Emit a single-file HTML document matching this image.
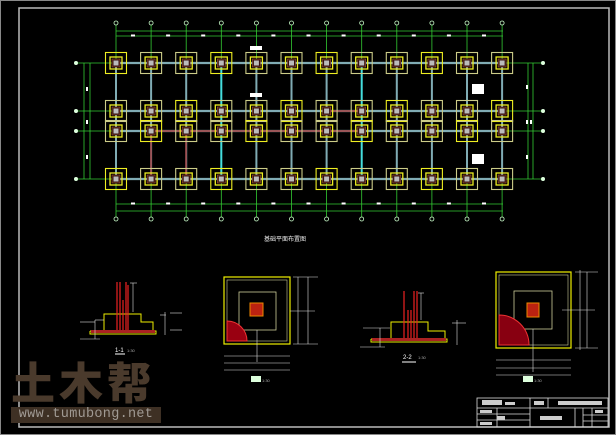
<!DOCTYPE html>
<html><head><meta charset="utf-8"><style>
html,body{margin:0;padding:0;background:#000;width:616px;height:435px;overflow:hidden}
svg{position:absolute;left:0;top:0}
.wm{position:absolute;left:11px;top:356px;width:150px;font-family:"Noto Sans CJK SC","WenQuanYi Zen Hei",sans-serif;font-weight:900;font-size:44px;line-height:48px;color:#4a3a2c;letter-spacing:4px;white-space:nowrap}
.wb{position:absolute;left:11px;top:407px;width:150px;height:16px;background:#3e3024;color:#a09a94;font-family:"Liberation Mono",monospace;font-size:13.5px;line-height:16px;text-align:center;white-space:nowrap;letter-spacing:0.3px}
</style></head><body>
<svg id="s" width="616" height="435" viewBox="0 0 616 435" xmlns="http://www.w3.org/2000/svg">
<rect x="0.5" y="0.5" width="615" height="434" fill="none" stroke="#888" stroke-width="1"/>
<rect x="19" y="8" width="590" height="419" fill="none" stroke="#bbb" stroke-width="1.5"/>
<g id="plan"></g>
<text x="285" y="241" fill="#eee" font-size="6" font-family="Noto Sans CJK SC,sans-serif" text-anchor="middle">基础平面布置图</text>
<g fill="none" stroke-width="1">
<polyline points="90,331 104,331 104,314 141,314 141,322 153,322 153,331 156,331 156,334 90,334 90,331" stroke="#ee0"/>
<rect x="91" y="330" width="64" height="3" fill="#a22" stroke="none"/>
<g stroke="#e22" stroke-width="1.2"><line x1="117" y1="282" x2="117" y2="330"/><line x1="120" y1="282" x2="120" y2="330"/><line x1="126" y1="282" x2="126" y2="330"/><line x1="123" y1="300" x2="123" y2="330"/><line x1="128" y1="285" x2="128" y2="330"/></g>
<g stroke="#ddd" stroke-width="0.6"><line x1="130" y1="283" x2="137" y2="283"/><line x1="133" y1="283" x2="133" y2="312"/><line x1="95" y1="320" x2="104" y2="320"/><line x1="95" y1="320" x2="95" y2="339"/><line x1="80" y1="339" x2="100" y2="339"/><line x1="80" y1="322" x2="95" y2="322"/><line x1="160" y1="315" x2="166" y2="315"/><line x1="165" y1="312" x2="165" y2="335"/><line x1="170" y1="313" x2="182" y2="313"/><line x1="170" y1="330" x2="182" y2="330"/></g>
<line x1="115" y1="354" x2="125" y2="354" stroke="#fff"/>
<text x="115" y="352" fill="#fff" font-size="6" font-family="Liberation Sans">1-1</text><text x="127" y="352" fill="#aaa" font-size="4" font-family="Liberation Sans">1:30</text>
<rect x="224" y="277" width="66" height="67" stroke="#ee0" stroke-width="1.2"/>
<rect x="227" y="280" width="60" height="61" stroke="#cc9" stroke-width="0.6"/>
<rect x="239" y="292" width="37" height="38" stroke="#cc9" stroke-width="0.8"/>
<rect x="250" y="303" width="13" height="13" fill="#b21" stroke="#e80"/>
<path d="M227,341 L227,321 A20,20 0 0 1 247,341 Z" fill="#901" stroke="#e33"/>
<g stroke="#ddd" stroke-width="0.6"><line x1="293" y1="277" x2="318" y2="277"/><line x1="298" y1="277" x2="298" y2="344"/><line x1="308" y1="277" x2="308" y2="344"/><line x1="293" y1="344" x2="318" y2="344"/><line x1="224" y1="356" x2="290" y2="356"/><line x1="224" y1="363" x2="290" y2="363"/><line x1="224" y1="370" x2="290" y2="370"/><line x1="257" y1="330" x2="257" y2="362"/><line x1="290" y1="311" x2="315" y2="311"/></g>
<rect x="251" y="376" width="10" height="6" fill="#dfd"/><text x="262" y="382" fill="#aaa" font-size="4" font-family="Liberation Sans">1:30</text>
<polyline points="371,339 391,339 391,322 428,322 428,331 445,331 445,339 447,339 447,342 371,342 371,339" stroke="#ee0"/>
<rect x="372" y="338" width="74" height="3" fill="#a22" stroke="none"/>
<g stroke="#e22" stroke-width="1.2"><line x1="404" y1="291" x2="404" y2="338"/><line x1="414" y1="291" x2="414" y2="338"/><line x1="417" y1="291" x2="417" y2="338"/><line x1="408" y1="310" x2="408" y2="338"/><line x1="411" y1="310" x2="411" y2="338"/></g>
<g stroke="#ddd" stroke-width="0.6"><line x1="418" y1="293" x2="424" y2="293"/><line x1="421" y1="293" x2="421" y2="320"/><line x1="363" y1="328" x2="390" y2="328"/><line x1="380" y1="328" x2="380" y2="347"/><line x1="360" y1="347" x2="385" y2="347"/><line x1="452" y1="323" x2="466" y2="323"/><line x1="457" y1="320" x2="457" y2="345"/></g>
<line x1="402" y1="362" x2="416" y2="362" stroke="#fff"/>
<text x="403" y="359" fill="#fff" font-size="6" font-family="Liberation Sans">2-2</text><text x="418" y="359" fill="#aaa" font-size="4" font-family="Liberation Sans">1:30</text>
<rect x="496" y="272" width="75" height="76" stroke="#ee0" stroke-width="1.2"/>
<rect x="499" y="275" width="69" height="70" stroke="#cc9" stroke-width="0.6"/>
<rect x="514" y="291" width="38" height="38" stroke="#cc9" stroke-width="0.8"/>
<rect x="527" y="303" width="12" height="14" fill="#b21" stroke="#e80"/>
<path d="M499,345 L499,315 A30,30 0 0 1 529,345 Z" fill="#801" stroke="#e33"/>
<g stroke="#ddd" stroke-width="0.6"><line x1="575" y1="272" x2="598" y2="272"/><line x1="580" y1="270" x2="580" y2="350"/><line x1="587" y1="272" x2="587" y2="348"/><line x1="575" y1="348" x2="598" y2="348"/><line x1="496" y1="360" x2="571" y2="360"/><line x1="496" y1="368" x2="571" y2="368"/><line x1="496" y1="375" x2="571" y2="375"/><line x1="533" y1="329" x2="533" y2="372"/><line x1="562" y1="310" x2="595" y2="310"/></g>
<rect x="523" y="376" width="10" height="6" fill="#dfd"/><text x="534" y="382" fill="#aaa" font-size="4" font-family="Liberation Sans">1:30</text>
<g stroke="#ddd" stroke-width="0.8"><rect x="477" y="398" width="131" height="29"/><line x1="477" y1="408" x2="608" y2="408"/><line x1="530" y1="398" x2="530" y2="427"/><line x1="548" y1="398" x2="548" y2="408"/><line x1="575" y1="408" x2="575" y2="427"/><line x1="583" y1="408" x2="583" y2="427"/><line x1="592" y1="408" x2="592" y2="427"/><line x1="497" y1="408" x2="497" y2="427"/><line x1="477" y1="414" x2="530" y2="414"/><line x1="477" y1="420" x2="530" y2="420"/><line x1="583" y1="415" x2="608" y2="415"/><line x1="583" y1="421" x2="608" y2="421"/></g>
<g fill="#ccc"><rect x="482" y="400" width="20" height="5"/><rect x="505" y="402" width="10" height="3"/><rect x="534" y="401" width="10" height="4"/><rect x="558" y="401" width="44" height="4"/><rect x="540" y="416" width="22" height="4"/><rect x="497" y="416" width="8" height="4"/><rect x="595" y="410" width="8" height="3"/><rect x="480" y="410" width="12" height="3"/><rect x="480" y="422" width="12" height="3"/></g>
</g>
</svg>
<div class="wm">土木帮</div>
<div class="wb">www.tumubong.net</div>
<script>
var g=document.getElementById('plan'),h='';
var xs=[],ys=[63,111,131,179];
for(var i=0;i<12;i++)xs.push(116+35.1*i);
function L(a,b,c,d,col,w){h+='<line x1="'+a+'" y1="'+b+'" x2="'+c+'" y2="'+d+'" stroke="'+col+'" stroke-width="'+w+'"/>';}
var G='#3c3';
[31,36,204,211].forEach(function(y){L(116,y,503,y,G,0.8);});
[84,90].forEach(function(x){L(x,63,x,179,G,0.8);});
[528,533].forEach(function(x){L(x,63,x,179,G,0.8);});
xs.forEach(function(x){L(x,25,x,217,G,0.8);h+='<circle cx="'+x+'" cy="23" r="2" fill="none" stroke="#cfc" stroke-width="0.8"/><circle cx="'+x+'" cy="219" r="2" fill="none" stroke="#cfc" stroke-width="0.8"/>';});
ys.forEach(function(y){L(78,y,541,y,G,0.8);h+='<circle cx="76" cy="'+y+'" r="2" fill="#dfd"/><circle cx="543" cy="'+y+'" r="2" fill="#dfd"/>';});
ys.forEach(function(y){L(112,y,506,y,'#80acb4',2.2);});
xs.forEach(function(x,i){L(x,63,x,179,(i==3||i==7)?'#4dd':'#80acb4',2);});
L(151,131,362,131,'#a22',1.2);L(327,111,362,111,'#a22',1.2);L(151,131,151,179,'#a22',1.2);L(186,131,186,179,'#a22',1.2);
ys.forEach(function(y,r){xs.forEach(function(x,i){
 var o=((i+r)%3==0)?'#ee2':'#cc8';
 h+='<rect x="'+(x-10.5)+'" y="'+(y-10.5)+'" width="21" height="21" fill="none" stroke="'+o+'" stroke-width="1.1"/>';
 h+='<rect x="'+(x-6)+'" y="'+(y-6)+'" width="12" height="12" fill="none" stroke="#ee2" stroke-width="1.3"/>';
 h+='<rect x="'+(x-4)+'" y="'+(y-4)+'" width="8" height="8" fill="#311" stroke="#a53" stroke-width="0.6"/>';
 h+='<rect x="'+(x-2.5)+'" y="'+(y-2.5)+'" width="5" height="5" fill="#bbb"/>';
});});
for(var i=0;i<11;i++){var mx=xs[i]+17;[36,204].forEach(function(y){h+='<rect x="'+(mx-2)+'" y="'+(y-1.5)+'" width="4" height="2" fill="#fff"/>';});}
[[87,87],[87,120],[87,155]].forEach(function(p){h+='<rect x="'+(p[0]-1)+'" y="'+p[1]+'" width="2" height="4" fill="#fff"/>';});
[[527,85],[527,120],[531,120],[527,155]].forEach(function(p){h+='<rect x="'+(p[0]-1)+'" y="'+p[1]+'" width="2" height="4" fill="#fff"/>';});
h+='<rect x="472" y="84" width="12" height="10" fill="#fff"/><rect x="472" y="154" width="12" height="10" fill="#fff"/>';
h+='<rect x="250" y="46" width="12" height="4" fill="#fff"/><rect x="250" y="93" width="12" height="4" fill="#fff"/>';
g.innerHTML=h;
</script>
</body></html>
